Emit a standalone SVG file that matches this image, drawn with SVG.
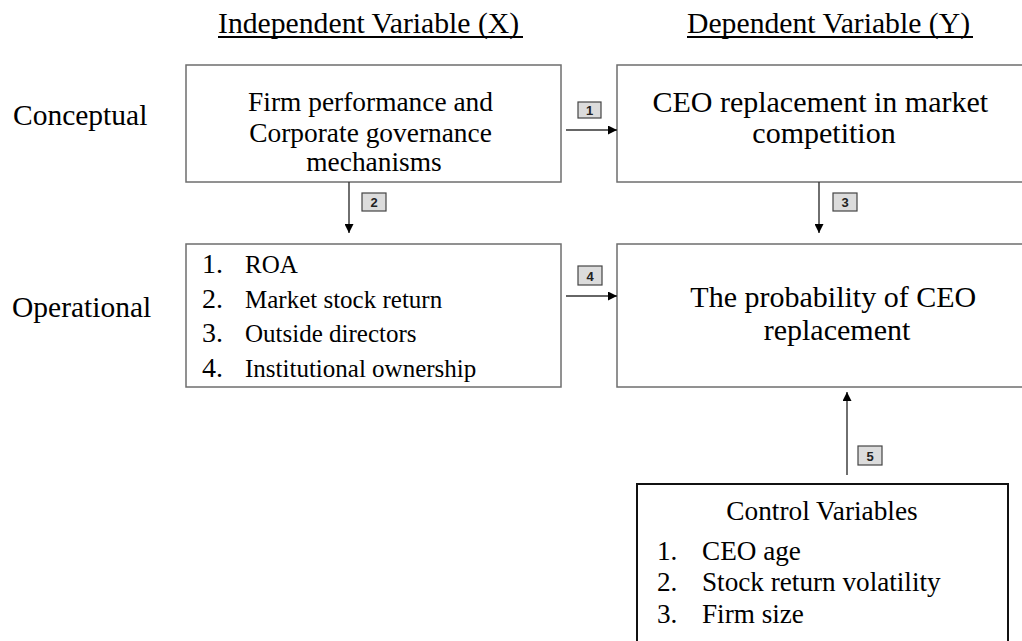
<svg xmlns="http://www.w3.org/2000/svg" width="1022" height="641" viewBox="0 0 1022 641">
<defs>
<style>
.t{font-family:"Liberation Serif","Times New Roman",serif;fill:#000}
.h{font-size:29.7px}
.b{fill:#fff;stroke:#6e6e6e;stroke-width:1.5}
.cb{fill:#fff;stroke:#111;stroke-width:2}
.c{stroke:#333;stroke-width:1.4;fill:none}
.lb{fill:#dcdcdc;stroke:#444;stroke-width:1.2}
.ln{font-family:"Liberation Sans",Arial,sans-serif;font-size:13px;font-weight:bold;fill:#222;text-anchor:middle}
</style>
<marker id="ah" viewBox="0 0 10 10" refX="10" refY="5" markerWidth="9" markerHeight="9" markerUnits="userSpaceOnUse" orient="auto">
<path d="M0,0 L10,5 L0,10 Z" fill="#000"/>
</marker>
</defs>
<rect width="1022" height="641" fill="#fff"/>

<g id="headers">
<text class="t h" x="218" y="33">Independent Variable (X)</text>
<rect x="218" y="36" width="305" height="2" fill="#000"/>
<text class="t h" x="687" y="33">Dependent Variable (Y)</text>
<rect x="687" y="36" width="286" height="2" fill="#000"/>
</g>

<g id="row-labels">
<text class="t" x="13" y="125" font-size="29.5">Conceptual</text>
<text class="t" x="12" y="317" font-size="29.5">Operational</text>
</g>

<g id="node-firm">
<rect class="b" x="186" y="65" width="375" height="117"/>
<text class="t" font-size="27.4" text-anchor="middle" x="374">
<tspan x="374" y="111">Firm performance and</tspan>
<tspan x="374" y="142">Corporate governance</tspan>
<tspan x="374" y="171">mechanisms</tspan>
</text>
</g>

<g id="node-ceo-market">
<rect class="b" x="617" y="65" width="420" height="117"/>
<text class="t" font-size="30" text-anchor="middle">
<tspan x="824" y="112">CEO replacement in market</tspan>
<tspan x="824" y="143">competition</tspan>
</text>
</g>

<g id="node-measures">
<rect class="b" x="186" y="244" width="375" height="143"/>
<g class="t" font-size="28">
<text x="202" y="273">1.</text>
<text x="202" y="308">2.</text>
<text x="202" y="342">3.</text>
<text x="202" y="377">4.</text>
</g>
<g class="t" font-size="25">
<text x="245" y="273">ROA</text>
<text x="245" y="308">Market stock return</text>
<text x="245" y="342">Outside directors</text>
<text x="245" y="377">Institutional ownership</text>
</g>
</g>

<g id="node-probability">
<rect class="b" x="617" y="244" width="440" height="143"/>
<text class="t" font-size="30" text-anchor="middle">
<tspan x="837" y="307">The probability of CEO</tspan>
<tspan x="837" y="340">replacement</tspan>
</text>
</g>

<g id="node-control">
<rect class="cb" x="637" y="484" width="371" height="170"/>
<text class="t" font-size="27.3" text-anchor="middle" x="822" y="520">Control Variables</text>
<g class="t" font-size="27.2">
<text x="657" y="560">1.</text>
<text x="657" y="591">2.</text>
<text x="657" y="623">3.</text>
<text x="702" y="560">CEO age</text>
<text x="702" y="591">Stock return volatility</text>
<text x="702" y="623">Firm size</text>
</g>
</g>

<g id="connectors">
<line class="c" x1="566" y1="130" x2="617" y2="130" marker-end="url(#ah)"/>
<line class="c" x1="349" y1="182" x2="349" y2="233" marker-end="url(#ah)"/>
<line class="c" x1="819" y1="182" x2="819" y2="233" marker-end="url(#ah)"/>
<line class="c" x1="566" y1="296" x2="617" y2="296" marker-end="url(#ah)"/>
<line class="c" x1="847" y1="475" x2="847" y2="392" marker-end="url(#ah)"/>
<g id="label-1"><rect class="lb" x="578" y="102" width="23" height="16"/><text class="ln" x="589.5" y="115">1</text></g>
<g id="label-2"><rect class="lb" x="362" y="193" width="24" height="18"/><text class="ln" x="374" y="207">2</text></g>
<g id="label-3"><rect class="lb" x="833" y="193" width="24" height="18"/><text class="ln" x="845" y="207">3</text></g>
<g id="label-4"><rect class="lb" x="578" y="266" width="24" height="19"/><text class="ln" x="590" y="280.5">4</text></g>
<g id="label-5"><rect class="lb" x="858" y="446" width="24" height="19"/><text class="ln" x="870" y="460.5">5</text></g>
</g>
</svg>
